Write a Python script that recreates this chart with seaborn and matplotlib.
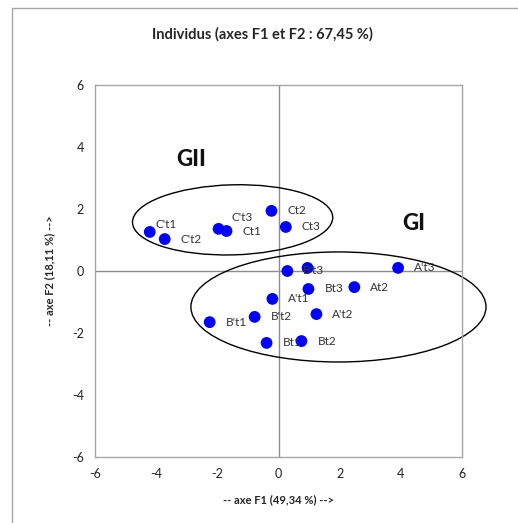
import matplotlib
matplotlib.use("Agg")
import matplotlib.pyplot as plt
import seaborn as sns
import pandas as pd
from matplotlib.patches import Ellipse, Rectangle

# ---- data ----
names = ["C't1", "C't2", "C't3", "Ct1", "Ct2", "Ct3", "B't3", "", "Bt3", "At2",
         "A't3", "A't1", "A't2", "B't1", "B't2", "Bt1", "Bt2"]
f1 = [-4.21, -3.72, -1.96, -1.70, -0.23, 0.24, 0.29, 0.95, 0.98, 2.48,
      3.91, -0.20, 1.24, -2.25, -0.78, -0.39, 0.75]
f2 = [1.26, 1.03, 1.36, 1.29, 1.94, 1.42, 0.00, 0.10, -0.58, -0.52,
      0.10, -0.90, -1.39, -1.65, -1.48, -2.32, -2.26]
ticks = [-6, -4, -2, 0, 2, 4, 6]
title = "Individus (axes F1 et F2 : 67,45 %)"
xlabel = "-- axe F1 (49,34 %) -->"
ylabel = "-- axe F2 (18,11 %) -->"
groups = ["GII", "GI"]

df = pd.DataFrame({"F1": f1, "F2": f2, "name": names})

sns.set_style("white")
plt.rcParams["font.family"] = ["Lato", "DejaVu Sans"]

W, H = 518, 523
fig = plt.figure(figsize=(W / 100, H / 100), dpi=100)
# outer chart frame
fig.patches.append(Rectangle((12 / W, -0.05), 1.2, 1 - 8 / H + 0.05, transform=fig.transFigure,
                             fill=False, edgecolor="#a6a6a6", linewidth=1.0))

ax = fig.add_axes([95 / W, 1 - 457 / H, 367 / W, 372 / H])
ax.axhline(0, color="#8c8c8c", lw=1, zorder=1)
ax.axvline(0, color="#8c8c8c", lw=1, zorder=1)

sns.scatterplot(data=df, x="F1", y="F2", ax=ax, color="#0000ff", s=72,
                edgecolor="none", zorder=3, legend=False)

offsets = {"C't1": (4, 5), "C't3": (9, 8)}
for _, r in df.iterrows():
    if not r["name"]:
        continue
    dx, dy = offsets.get(r["name"], (11.5, 0))
    ax.annotate(r["name"], (r["F1"], r["F2"]), xytext=(dx, dy), textcoords="offset points",
                ha="left", va="center", fontsize=8.5, color="#333333", zorder=4)

ax.add_patch(Ellipse((-1.50, 1.65), 6.55, 2.26, angle=1.5, fill=False, edgecolor="black",
                     lw=1.0, clip_on=False, zorder=2))
ax.add_patch(Ellipse((1.96, -1.16), 9.65, 3.55, angle=0, fill=False, edgecolor="black",
                     lw=1.0, clip_on=False, zorder=2))

ax.text(-2.85, 3.6, groups[0], fontsize=16, fontweight="black", ha="center", va="center",
        color="#111111")
ax.text(4.42, 1.52, groups[1], fontsize=16, fontweight="black", ha="center", va="center",
        color="#111111")

ax.set_xlim(-6, 6)
ax.set_ylim(-6, 6)
ax.set_xticks(ticks)
ax.set_yticks(ticks)
ax.set_xticklabels([str(t) for t in ticks])
ax.set_yticklabels([str(t) for t in ticks])
ax.tick_params(length=0, labelsize=9, colors="#222222", pad=8)
for s in ax.spines.values():
    s.set_color("#a6a6a6")
    s.set_linewidth(1.0)
    s.set_visible(True)

ax.set_xlabel(xlabel, fontsize=8, fontweight="bold", labelpad=10)
ax.set_ylabel(ylabel, fontsize=8, fontweight="bold", labelpad=12)
fig.text(262 / W, 1 - 34 / H, title, fontsize=10.5, fontweight="bold", ha="center", va="center")

fig.savefig("out.png", dpi=100)
